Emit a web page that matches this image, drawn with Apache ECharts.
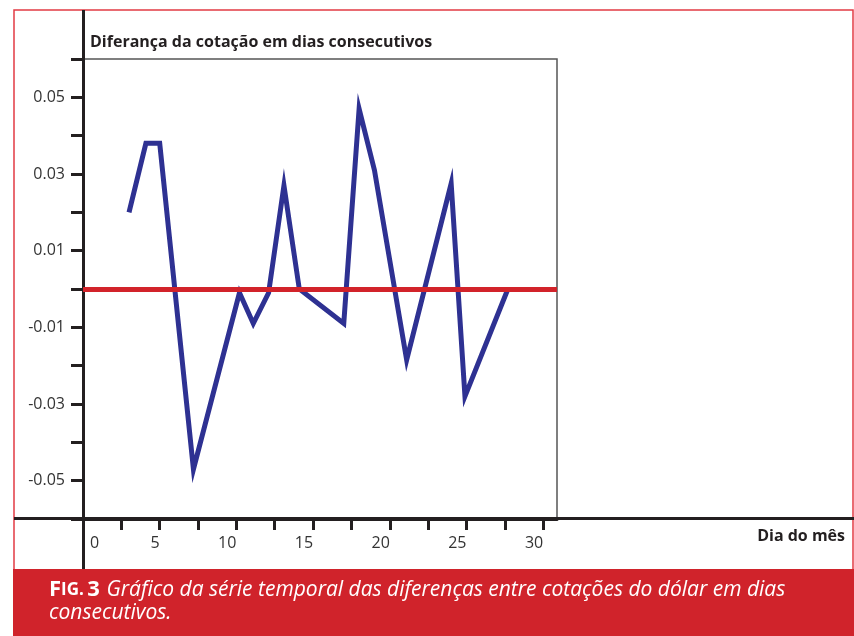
<!DOCTYPE html>
<html>
<head>
<meta charset="utf-8">
<script src="https://cdn.jsdelivr.net/npm/echarts@6/dist/echarts.min.js"></script>
<style>
  body { margin: 0; background: #fff; }
  #chart { width: 854px; height: 636px; }
</style>
</head>
<body>
<div id="chart"></div>
<script>
// dias do mês e diferenças da cotação
var dias = [3, 4.1, 5, 7.2, 10.2, 11.1, 12.1, 13.1, 14.1, 17, 18, 19, 21.1, 24, 24.9, 27.7];
var diferencas = [0.020, 0.038, 0.038, -0.047, -0.001, -0.009, -0.001, 0.027, 0, -0.009, 0.047, 0.031, -0.0185, 0.0275, -0.028, 0];

var xTicks = [2.5, 5, 7.5, 10, 12.5, 15, 17.5, 20, 22.5, 25, 27.5, 30];
var xLabels = [0, 5, 10, 15, 20, 25, 30];
var yLabels = [-0.05, -0.03, -0.01, 0.01, 0.03, 0.05];

var titulo = "Diferança da cotação em dias consecutivos";
var nomeEixoX = "Dia do mês";
var legenda1 = "Gráfico da série temporal das diferenças entre cotações do dólar em dias";
var legenda2 = "consecutivos.";

var pontos = dias.map(function(d, i) { return [d, diferencas[i]]; });

var chart = echarts.init(document.getElementById("chart"));

var preto = "#231f20";
var vermelho = "#d0232b";

var option = {
  backgroundColor: "#fff",
  animation: false,
  grid: {
    left: 83,
    top: 59,
    right: 297,
    bottom: 117,
    show: true,
    borderColor: "#555",
    borderWidth: 1.5
  },
  xAxis: {
    type: "value",
    min: 0,
    max: 30.9,
    interval: 2.5,
    splitLine: { show: false },
    axisLine: { onZero: false, lineStyle: { color: preto, width: 3 } },
    axisTick: { customValues: xTicks, length: 11, lineStyle: { color: preto, width: 3 } },
    axisLabel: {
      customValues: xLabels,
      align: "right",
      alignMinLabel: "left",
      margin: 16,
      fontFamily: "Open Sans",
      fontSize: 16,
      color: "#333",
      formatter: function(v) { return v === 0 ? "{z|0}" : String(v); },
      rich: {
        z: { padding: [0, 0, 0, 7], fontFamily: "Open Sans", fontSize: 16, color: "#333" }
      }
    }
  },
  yAxis: {
    type: "value",
    min: -0.06,
    max: 0.06,
    interval: 0.01,
    splitLine: { show: false },
    axisLine: { show: true, onZero: false, lineStyle: { color: preto, width: 3 } },
    axisTick: { show: true, length: 12, lineStyle: { color: preto, width: 3 } },
    axisLabel: {
      customValues: yLabels,
      margin: 18,
      fontFamily: "Open Sans",
      fontSize: 16,
      color: "#333",
      formatter: function(v) { return v.toFixed(2); }
    }
  },
  graphic: [
    {
      type: "rect",
      z: -10,
      shape: { x: 14, y: 10, width: 839, height: 560 },
      style: { fill: "none", stroke: "#e23b44", lineWidth: 1.5 }
    },
    {
      type: "line",
      shape: { x1: 83.5, y1: 10, x2: 83.5, y2: 569 },
      style: { stroke: preto, lineWidth: 3 }
    },
    {
      type: "line",
      shape: { x1: 14, y1: 518.5, x2: 854, y2: 518.5 },
      style: { stroke: preto, lineWidth: 3 }
    },
    {
      type: "rect",
      shape: { x: 13, y: 569, width: 841, height: 67 },
      style: { fill: vermelho }
    },
    {
      type: "text",
      style: {
        x: 90, y: 42,
        text: titulo,
        fill: preto,
        font: "bold 16px 'Open Sans'",
        textVerticalAlign: "middle"
      }
    },
    {
      type: "text",
      style: {
        x: 845, y: 536,
        text: nomeEixoX,
        fill: preto,
        font: "bold 16px 'Open Sans'",
        textAlign: "right",
        textVerticalAlign: "middle"
      }
    },
    {
      type: "text",
      style: {
        x: 49, y: 590,
        text: "{f|F}{s|IG.} {f|3}  {t|" + legenda1 + "}",
        textVerticalAlign: "middle",
        rich: {
          f: { fill: "#fff", fontFamily: "Open Sans", fontWeight: "bold", fontSize: 22 },
          s: { fill: "#fff", fontFamily: "Open Sans", fontWeight: "bold", fontSize: 17 },
          t: { fill: "#fff", fontFamily: "Open Sans", fontStyle: "italic", fontSize: 21 }
        }
      }
    },
    {
      type: "text",
      style: {
        x: 49, y: 613,
        text: legenda2,
        fill: "#fff",
        font: "italic 21px 'Open Sans'",
        textVerticalAlign: "middle"
      }
    }
  ],
  series: [
    {
      name: "diferença",
      type: "line",
      data: pontos,
      symbol: "none",
      z: 2,
      lineStyle: { color: "#2e3192", width: 5, join: "miter", cap: "butt" }
    },
    {
      name: "zero",
      type: "line",
      data: [],
      z: 3,
      markLine: {
        silent: true,
        symbol: "none",
        label: { show: false },
        lineStyle: { color: "#d2232a", width: 5, type: "solid" },
        data: [{ yAxis: 0 }]
      }
    }
  ]
};

chart.setOption(option);
</script>
</body>
</html>
